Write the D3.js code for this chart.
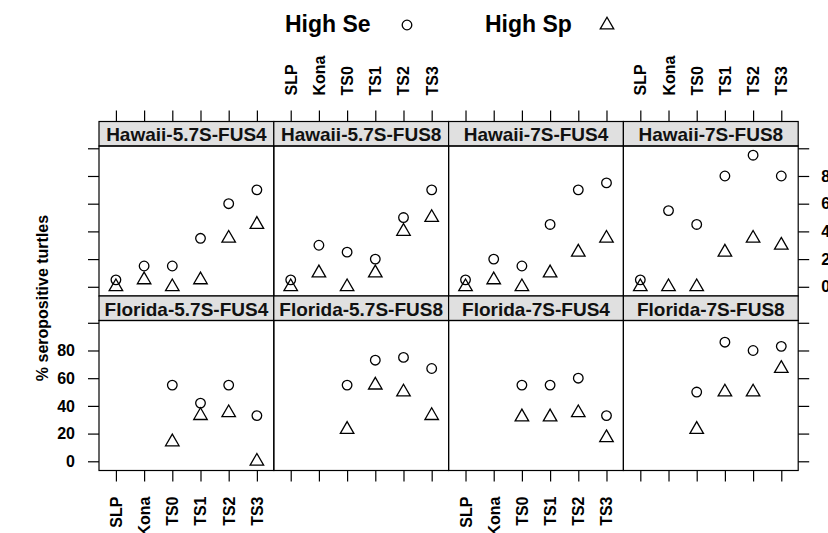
<!DOCTYPE html>
<html>
<head>
<meta charset="utf-8">
<script src="https://cdn.jsdelivr.net/npm/d3@7"></script>
<style>
  html, body { margin: 0; padding: 0; background: #fff; }
  svg { display: block; font-family: "Liberation Sans", Arial, Helvetica, sans-serif; font-weight: bold; }
</style>
</head>
<body>
<svg id="chart" width="828" height="533"></svg>
<script>
// Sampling sites on the x axis
const sites = ["SLP", "Kona", "TS0", "TS1", "TS2", "TS3"];

// Panels: population x assay cut-off
const panelNames = [
  "Hawaii-5.7S-FUS4", "Hawaii-5.7S-FUS8", "Hawaii-7S-FUS4", "Hawaii-7S-FUS8",
  "Florida-5.7S-FUS4", "Florida-5.7S-FUS8", "Florida-7S-FUS4", "Florida-7S-FUS8"
];

// % seropositive, high-sensitivity cut-off (null = site not sampled)
const highSe = [
  [5, 15, 15, 35, 60, 70],
  [5, 30, 25, 20, 50, 70],
  [5, 20, 15, 45, 70, 75],
  [5, 55, 45, 80, 95, 80],
  [null, null, 55, 42, 55, 33],
  [null, null, 55, 73, 75, 67],
  [null, null, 55, 55, 60, 33],
  [null, null, 50, 86, 80, 83]
];

// % seropositive, high-specificity cut-off
const highSp = [
  [0, 5, 0, 5, 35, 45],
  [0, 10, 0, 10, 40, 50],
  [0, 5, 0, 10, 25, 35],
  [0, 0, 0, 25, 35, 30],
  [null, null, 14, 33, 35, 0],
  [null, null, 23, 55, 50, 33],
  [null, null, 32, 32, 35, 17],
  [null, null, 23, 50, 50, 67]
];

const yTicks = [0, 20, 40, 60, 80, 100];
const yLabels = ["0", "20", "40", "60", "80", ""];
const legendLabels = ["High Se", "High Sp"];
const yTitle = "% seropositive turtles";

// ---- layout ----
const svg = d3.select("#chart");
const left = 99, panelW = 174.8;
const stripH = 24.5, panelH = 150;
const rowTop = [121.5, 296];           // top of each row's strip
const tickLen = 11;
const fontTick = 16;

const x = d3.scaleLinear().domain([0.4, 6.6]);
const y = d3.scaleLinear().domain([-6.65, 101.65]);

const circleSym = d3.symbol().type(d3.symbolCircle).size(Math.PI * 4.8 * 4.8);
const triSym = d3.symbol().type(d3.symbolTriangle).size(79);

panelNames.forEach((name, i) => {
  const col = i % 4, row = Math.floor(i / 4);
  const x0 = left + col * panelW;
  const sTop = rowTop[row];
  const pTop = sTop + stripH, pBot = pTop + panelH;
  const xs = x.copy().range([x0, x0 + panelW]);
  const ys = y.copy().range([pBot, pTop]);
  const g = svg.append("g");

  // strip
  g.append("rect")
    .attr("x", x0).attr("y", sTop).attr("width", panelW).attr("height", stripH)
    .attr("fill", "#e0e0e0").attr("stroke", "#000").attr("stroke-width", 1.2);
  g.append("text")
    .attr("x", x0 + panelW / 2).attr("y", sTop + stripH / 2 + 1)
    .attr("text-anchor", "middle").attr("dominant-baseline", "central")
    .attr("font-size", 19).attr("fill", "#111")
    .text(name);

  // panel frame
  g.append("rect")
    .attr("x", x0).attr("y", pTop).attr("width", panelW).attr("height", panelH)
    .attr("fill", "none").attr("stroke", "#000").attr("stroke-width", 1.2);

  // points
  sites.forEach((s, k) => {
    const cx = xs(k + 1);
    if (highSe[i][k] != null) {
      g.append("path").attr("d", circleSym)
        .attr("transform", `translate(${cx},${ys(highSe[i][k])})`)
        .attr("fill", "none").attr("stroke", "#000").attr("stroke-width", 1.3);
    }
    if (highSp[i][k] != null) {
      g.append("path").attr("d", triSym)
        .attr("transform", `translate(${cx},${ys(highSp[i][k])})`)
        .attr("fill", "none").attr("stroke", "#000").attr("stroke-width", 1.3);
    }
  });

  // x axis: ticks above the top row, below the bottom row; labels alternate
  if (row === 0) {
    const ax = d3.axisTop(xs).tickValues(d3.range(1, 7)).tickSize(tickLen).tickPadding(0)
      .tickFormat(d => (col % 2 === 1 ? sites[d - 1] : ""));
    const ag = g.append("g").attr("transform", `translate(0,${sTop})`).call(ax);
    ag.select(".domain").remove();
    ag.selectAll("line").attr("stroke", "#000").attr("stroke-width", 1.2);
    ag.selectAll("text")
      .attr("x", 0).attr("y", 0).attr("dy", null)
      .attr("text-anchor", "start").attr("dominant-baseline", "central")
      .attr("font-size", fontTick).attr("font-family", null).attr("fill", "#000")
      .attr("transform", `translate(0,${-tickLen - 15}) rotate(-90)`);
  } else {
    const ax = d3.axisBottom(xs).tickValues(d3.range(1, 7)).tickSize(tickLen).tickPadding(0)
      .tickFormat(d => (col % 2 === 0 ? sites[d - 1] : ""));
    const ag = g.append("g").attr("transform", `translate(0,${pBot})`).call(ax);
    ag.select(".domain").remove();
    ag.selectAll("line").attr("stroke", "#000").attr("stroke-width", 1.2);
    ag.selectAll("text")
      .attr("x", 0).attr("y", 0).attr("dy", null)
      .attr("text-anchor", "end").attr("dominant-baseline", "central")
      .attr("font-size", fontTick).attr("font-family", null).attr("fill", "#000")
      .attr("transform", `translate(0,${tickLen + 15}) rotate(-90)`);
  }

  // y axis: left ticks on column 0, right ticks on column 3
  if (col === 0) {
    const ay = d3.axisLeft(ys).tickValues(yTicks).tickSize(tickLen).tickPadding(13)
      .tickFormat((d, j) => (row === 1 ? yLabels[j] : ""));
    const ag = g.append("g").attr("transform", `translate(${x0},0)`).call(ay);
    ag.select(".domain").remove();
    ag.selectAll("line").attr("stroke", "#000").attr("stroke-width", 1.2);
    ag.selectAll("text").attr("font-size", fontTick).attr("font-family", null).attr("fill", "#000");
  }
  if (col === 3) {
    const ay = d3.axisRight(ys).tickValues(yTicks).tickSize(tickLen).tickPadding(12)
      .tickFormat((d, j) => (row === 0 ? yLabels[j] : ""));
    const ag = g.append("g").attr("transform", `translate(${x0 + panelW},0)`).call(ay);
    ag.select(".domain").remove();
    ag.selectAll("line").attr("stroke", "#000").attr("stroke-width", 1.2);
    ag.selectAll("text").attr("font-size", fontTick).attr("font-family", null).attr("fill", "#000");
  }
});

// y axis title
svg.append("text")
  .attr("transform", `translate(42,298) rotate(-90)`)
  .attr("text-anchor", "middle").attr("dominant-baseline", "central")
  .attr("font-size", 16).attr("fill", "#000")
  .text(yTitle);

// legend
const legend = svg.append("g");
const legendText = [285, 485], legendSym = [407, 607];
legendLabels.forEach((lab, i) => {
  legend.append("text")
    .attr("x", legendText[i]).attr("y", 32)
    .attr("font-size", 23).attr("fill", "#000")
    .text(lab);
  legend.append("path")
    .attr("d", i === 0 ? circleSym : triSym)
    .attr("transform", `translate(${legendSym[i]},25)`)
    .attr("fill", "none").attr("stroke", "#000").attr("stroke-width", 1.3);
});
</script>
</body>
</html>
